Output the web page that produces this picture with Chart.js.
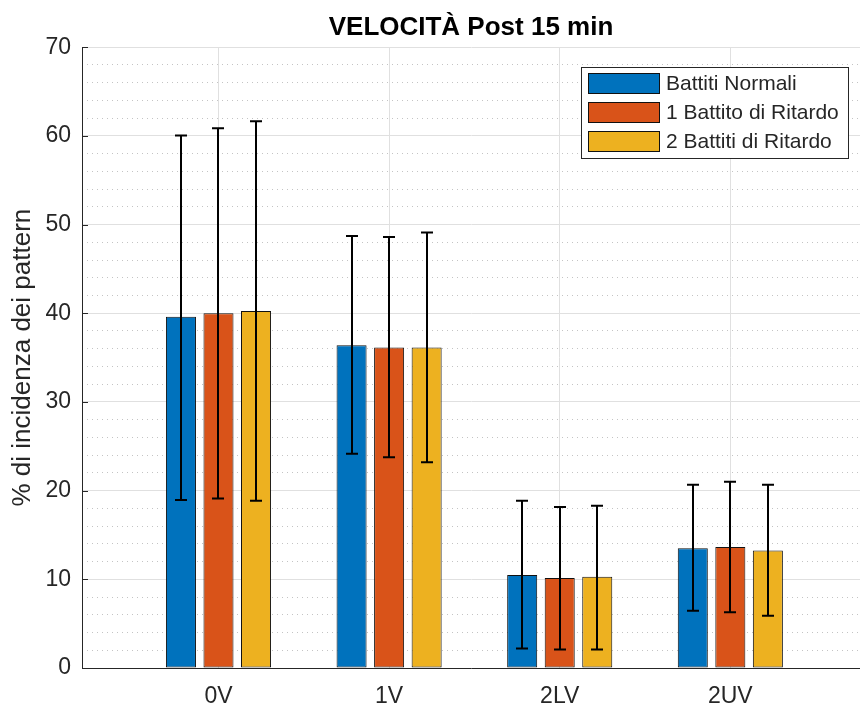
<!DOCTYPE html>
<html>
<head>
<meta charset="utf-8">
<title>VELOCITÀ Post 15 min</title>
<script src="https://cdn.jsdelivr.net/npm/chart.js@4.4.1/dist/chart.umd.min.js"></script>
<style>
  html, body { margin: 0; padding: 0; background: #fff; }
  #wrap { width: 860px; height: 708px; }
</style>
</head>
<body>
<div id="wrap"><canvas id="chart" width="860" height="708"></canvas></div>
<script>
const categories = ["0V", "1V", "2LV", "2UV"];
const seriesNames = ["Battiti Normali", "1 Battito di Ritardo", "2 Battiti di Ritardo"];
const seriesColors = ["#0072BD", "#D95319", "#EDB120"];

// medie
const normaliMean = [39.6, 36.4, 10.5, 13.5];
const ritardo1Mean = [40.0, 36.15, 10.15, 13.65];
const ritardo2Mean = [40.25, 36.15, 10.3, 13.25];

// estremi delle barre d'errore
const normaliLow = [18.95, 24.15, 2.2, 6.45];
const normaliHigh = [60.05, 48.7, 18.85, 20.65];
const ritardo1Low = [19.1, 23.75, 2.1, 6.3];
const ritardo1High = [60.85, 48.6, 18.15, 21.0];
const ritardo2Low = [18.85, 23.2, 2.1, 5.9];
const ritardo2High = [61.65, 49.1, 18.3, 20.65];

const yTicks = [0, 10, 20, 30, 40, 50, 60, 70];

const FONT = '"Liberation Sans", Arial, Helvetica, sans-serif';
const TEXT = "#262626";

const toPoints = (values) => values.map((v, i) => ({ x: i + 1, y: v }));

const makeDataset = (k, mean, low, high) => ({
    label: seriesNames[k],
    data: toPoints(mean),
    errLow: low,
    errHigh: high,
    backgroundColor: seriesColors[k],
    borderColor: "#111",
    borderWidth: 1,
    borderSkipped: false,
    categoryPercentage: 0.66,
    barPercentage: 0.8,
});

// barre d'errore disegnate sopra le barre
const errorBarPlugin = {
    id: "errorBars",
    afterDatasetsDraw(chart) {
        const ctx = chart.ctx;
        const yScale = chart.scales.y;
        ctx.save();
        ctx.strokeStyle = "#000";
        ctx.lineWidth = 2;
        chart.data.datasets.forEach((ds, i) => {
            chart.getDatasetMeta(i).data.forEach((bar, j) => {
                const x = Math.round(bar.x);
                const yHi = yScale.getPixelForValue(ds.errHigh[j]);
                const yLo = yScale.getPixelForValue(ds.errLow[j]);
                ctx.beginPath();
                ctx.moveTo(x, yHi);
                ctx.lineTo(x, yLo);
                ctx.moveTo(x - 6, yHi);
                ctx.lineTo(x + 6, yHi);
                ctx.moveTo(x - 6, yLo);
                ctx.lineTo(x + 6, yLo);
                ctx.stroke();
            });
        });
        ctx.restore();
    }
};

// tacche verso l'interno sull'asse y
const innerTicksPlugin = {
    id: "innerTicks",
    afterDatasetsDraw(chart) {
        const ctx = chart.ctx;
        const yScale = chart.scales.y;
        const left = chart.chartArea.left;
        ctx.save();
        ctx.strokeStyle = TEXT;
        ctx.lineWidth = 1;
        yTicks.forEach(v => {
            const y = Math.round(yScale.getPixelForValue(v)) + 0.5;
            ctx.beginPath();
            ctx.moveTo(left, y);
            ctx.lineTo(left + 6, y);
            ctx.stroke();
        });
        ctx.restore();
    }
};

// legenda dentro l'area del grafico, in alto a destra
const boxLegendPlugin = {
    id: "boxLegend",
    afterDraw(chart) {
        const ctx = chart.ctx;
        const area = chart.chartArea;
        ctx.save();
        ctx.font = "21px " + FONT;
        const textW = Math.max(...seriesNames.map(n => ctx.measureText(n).width));
        const swW = 72, swH = 21, rowH = 29;
        const w = Math.round(7 + swW + 6 + textW + 9);
        const h = 6 + rowH * (seriesNames.length - 1) + swH + 6;
        const right = Math.round(area.right - 12);
        const top = Math.round(area.top + 20);
        const left = right - w;
        ctx.fillStyle = "#fff";
        ctx.fillRect(left, top, w, h);
        ctx.strokeStyle = TEXT;
        ctx.lineWidth = 1;
        ctx.strokeRect(left + 0.5, top + 0.5, w, h);
        seriesNames.forEach((name, k) => {
            const sy = top + 6 + k * rowH;
            ctx.fillStyle = seriesColors[k];
            ctx.fillRect(left + 7, sy, swW, swH);
            ctx.strokeStyle = "#111";
            ctx.strokeRect(left + 7.5, sy + 0.5, swW - 1, swH - 1);
            ctx.fillStyle = TEXT;
            ctx.textBaseline = "middle";
            ctx.textAlign = "left";
            ctx.fillText(name, left + 7 + swW + 6, sy + swH / 2 + 1);
        });
        ctx.restore();
    }
};

new Chart(document.getElementById("chart"), {
    type: "bar",
    data: {
        datasets: [
            makeDataset(0, normaliMean, normaliLow, normaliHigh),
            makeDataset(1, ritardo1Mean, ritardo1Low, ritardo1High),
            makeDataset(2, ritardo2Mean, ritardo2Low, ritardo2High),
        ],
    },
    options: {
        responsive: false,
        animation: false,
        layout: { padding: 0 },
        plugins: {
            legend: { display: false },
            tooltip: { enabled: false },
            title: {
                display: true,
                fullSize: false,
                text: "VELOCITÀ Post 15 min",
                color: "#000",
                font: { family: FONT, size: 26, weight: "bold", lineHeight: 1.2 },
                padding: { top: 12, bottom: 4 },
            },
        },
        scales: {
            x: {
                type: "linear",
                offset: false,
                min: 0.2,
                max: 4.76,
                afterBuildTicks: s => { s.ticks = categories.map((_, i) => ({ value: i + 1 })); },
                afterFit: s => { s.height = 40; },
                ticks: {
                    callback: v => categories[v - 1] ?? "",
                    font: { family: FONT, size: 23 },
                    color: TEXT,
                    padding: 15,
                    maxRotation: 0,
                    autoSkip: false,
                },
                grid: { color: "#e0e0e0", drawTicks: false, offset: false },
                border: { color: TEXT, width: 1 },
            },
            yMinor: {
                position: "left",
                min: 0,
                max: 70,
                afterFit: s => { s.width = 0; },
                ticks: { display: false, stepSize: 2 },
                grid: {
                    color: c => (c.tick.value % 10 === 0 ? "rgba(0,0,0,0)" : "#c4c4c4"),
                    drawTicks: false,
                },
                border: { display: false, dash: [1, 4] },
            },
            y: {
                position: "left",
                min: 0,
                max: 70,
                afterBuildTicks: s => { s.ticks = yTicks.map(v => ({ value: v })); },
                afterFit: s => { s.width = 82; },
                ticks: {
                    font: { family: FONT, size: 23 },
                    color: TEXT,
                    padding: 11,
                },
                grid: { color: "#e0e0e0", drawTicks: false },
                border: { color: TEXT, width: 1 },
                title: {
                    display: true,
                    text: "% di incidenza dei pattern",
                    color: TEXT,
                    font: { family: FONT, size: 26, lineHeight: 1.2 },
                    padding: { top: 7, bottom: 0 },
                },
            },
        },
    },
    plugins: [errorBarPlugin, innerTicksPlugin, boxLegendPlugin],
});
</script>
</body>
</html>
